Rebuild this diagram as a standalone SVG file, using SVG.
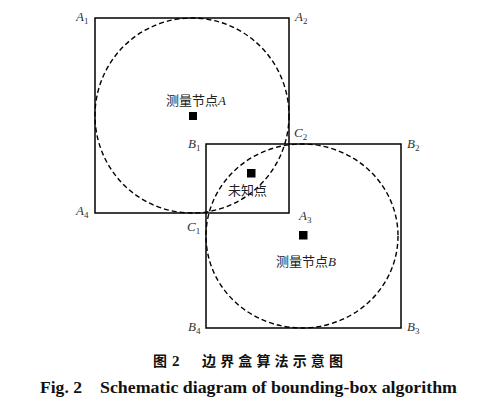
<svg xmlns="http://www.w3.org/2000/svg" width="481" height="404" viewBox="0 0 481 404">
<style>
.box{fill:none;stroke:#000;stroke-width:1.5}
.circ{fill:none;stroke:#000;stroke-width:1.4;stroke-dasharray:5 3}
.pt{fill:#000}
.lab{font-family:"Liberation Serif",serif;font-style:italic;font-size:13px;fill:#333}
.sub{font-size:9px;font-style:normal}
.cn{font-family:"Noto Sans CJK SC",sans-serif;font-size:13px;fill:#222}
.cnI{font-family:"Liberation Serif",serif;font-style:italic}
.cap{font-family:"Liberation Serif","Noto Sans CJK SC",serif;font-weight:bold;fill:#111}
.capcn{font-family:"Noto Sans CJK SC",sans-serif;font-weight:bold;fill:#111;font-size:14px}
</style>
<rect width="481" height="404" fill="#fff"/>
<g id="boxA"><rect class="box" x="95" y="18" width="194" height="195"/></g>
<g id="boxB"><rect class="box" x="206" y="144" width="195" height="184"/></g>
<g id="circles">
<ellipse class="circ" cx="192" cy="115.5" rx="97" ry="97.5"/>
<ellipse class="circ" cx="302" cy="236" rx="96" ry="92"/>
</g>
<g id="nodeA"><rect class="pt" x="189" y="112" width="8" height="8"/>
<text class="cn" x="166" y="105">测量节点<tspan class="cnI">A</tspan></text></g>
<g id="nodeUnknown"><rect class="pt" x="247" y="169" width="8.5" height="8.5"/>
<text class="cn" x="228" y="195">未知点</text></g>
<g id="nodeB"><rect class="pt" x="299" y="231" width="8.5" height="8.5"/>
<text class="cn" x="276" y="266">测量节点<tspan class="cnI">B</tspan></text></g>
<g id="labels">
<text class="lab" x="76" y="21">A<tspan class="sub" dy="3">1</tspan></text>
<text class="lab" x="295" y="21">A<tspan class="sub" dy="3">2</tspan></text>
<text class="lab" x="76" y="215">A<tspan class="sub" dy="3">4</tspan></text>
<text class="lab" x="299" y="220">A<tspan class="sub" dy="3">3</tspan></text>
<text class="lab" x="188" y="148">B<tspan class="sub" dy="3">1</tspan></text>
<text class="lab" x="407" y="148">B<tspan class="sub" dy="3">2</tspan></text>
<text class="lab" x="407" y="331">B<tspan class="sub" dy="3">3</tspan></text>
<text class="lab" x="188" y="331">B<tspan class="sub" dy="3">4</tspan></text>
<text class="lab" x="187" y="231">C<tspan class="sub" dy="3">1</tspan></text>
<text class="lab" x="294" y="137">C<tspan class="sub" dy="3">2</tspan></text>
</g>
<g id="caption">
<text class="capcn" x="153" y="366">图</text>
<text class="cap" x="172" y="366" font-size="15">2</text>
<text class="capcn" x="202" y="366" textLength="141" lengthAdjust="spacing">边界盒算法示意图</text>
<text class="cap" x="40" y="393" font-size="16.5" textLength="42" lengthAdjust="spacingAndGlyphs">Fig. 2</text>
<text class="cap" x="100" y="393" font-size="16.5" textLength="357" lengthAdjust="spacingAndGlyphs">Schematic diagram of bounding-box algorithm</text>
</g>
</svg>
